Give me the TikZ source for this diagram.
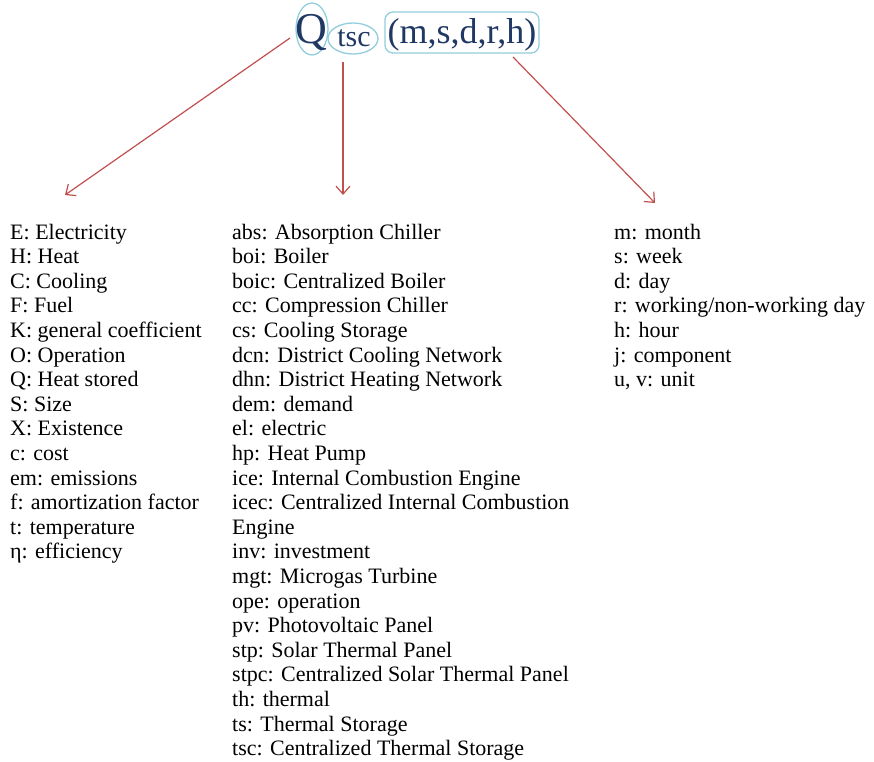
\documentclass[tikz,border=0pt]{standalone}
\usepackage{fontspec}
\setmainfont{Liberation Serif}
\usetikzlibrary{arrows.meta,shapes.geometric}
\definecolor{inkblue}{HTML}{1F3864}
\definecolor{ringblue}{HTML}{92CDDC}
\definecolor{arrowred}{HTML}{C0504D}
\tikzset{
  entry/.style={anchor=base west, inner sep=0pt, font=\fontsize{22}{24.6}\selectfont},
  ring/.style={draw=ringblue, line width=1.3pt},
  pointer/.style={draw=arrowred, line width=1.2pt, -{Straight Barb[length=8pt,width=14pt]}}
}
\begin{document}
\begin{tikzpicture}[x=1pt,y=-1pt]
  \useasboundingbox (0,0) rectangle (874,761);
  % header symbol Q_tsc(m,s,d,r,h)
  \node[ring, ellipse, minimum width=32pt, minimum height=52pt, inner sep=0pt] (Qring) at (312,29) {};
  \node[text=inkblue, font=\fontsize{44}{44}\selectfont, anchor=base, inner sep=0pt] (Q) at (311.5,43) {Q};
  \node[ring, ellipse, minimum width=50pt, minimum height=31pt, inner sep=0pt] (tscring) at (353,38.5) {};
  \node[text=inkblue, font=\fontsize{30}{30}\selectfont, anchor=base, inner sep=0pt] (tsc) at (354,46) {tsc};
  \node[ring, rounded corners=8pt, minimum width=154pt, minimum height=41pt, inner sep=0pt] (idx) at (462,32.5) {};
  \node[text=inkblue, font=\fontsize{36}{36}\selectfont, anchor=base, inner sep=0pt] (idxtext) at (462,43) {(m,s,d,r,h)};
  % arrow end points above the three columns
  \coordinate (qstart) at (290,38);
  \coordinate (tstart) at (343,62);
  \coordinate (istart) at (513,57);
  \coordinate (lend) at (65,195);
  \coordinate (mend) at (343,195);
  \coordinate (rend) at (655,203);
  \draw[pointer] (qstart) -- (lend);
  \draw[pointer] (tstart) -- (mend);
  \draw[pointer] (istart) -- (rend);
  % left column: variables
  \foreach \t [count=\i] in {E: Electricity, H: Heat, C: Cooling, F: Fuel,
      K: general coefficient, O: Operation, Q: Heat stored, S: Size, X: Existence,
      c: cost, em: emissions, f: amortization factor, t: temperature, η: efficiency}
    \node[entry] (l\i) at (10,{239+24.6*(\i-1)}) {\t};
  % middle column: technologies
  \foreach \t [count=\i] in {abs: Absorption Chiller, boi: Boiler, boic: Centralized Boiler,
      cc: Compression Chiller, cs: Cooling Storage, dcn: District Cooling Network,
      dhn: District Heating Network, dem: demand, el: electric, hp: Heat Pump,
      ice: Internal Combustion Engine, icec: Centralized Internal Combustion,
      Engine, inv: investment, mgt: Microgas Turbine, ope: operation,
      pv: Photovoltaic Panel, stp: Solar Thermal Panel,
      stpc: Centralized Solar Thermal Panel, th: thermal, ts: Thermal Storage,
      tsc: Centralized Thermal Storage}
    \node[entry] (m\i) at (232,{239+24.6*(\i-1)}) {\t};
  % right column: indices
  \foreach \t [count=\i] in {m: month, s: week, d: day, r: working/non-working day,
      h: hour, j: component, {u, v: unit}}
    \node[entry] (r\i) at (614,{239+24.6*(\i-1)}) {\t};
\end{tikzpicture}
\end{document}
